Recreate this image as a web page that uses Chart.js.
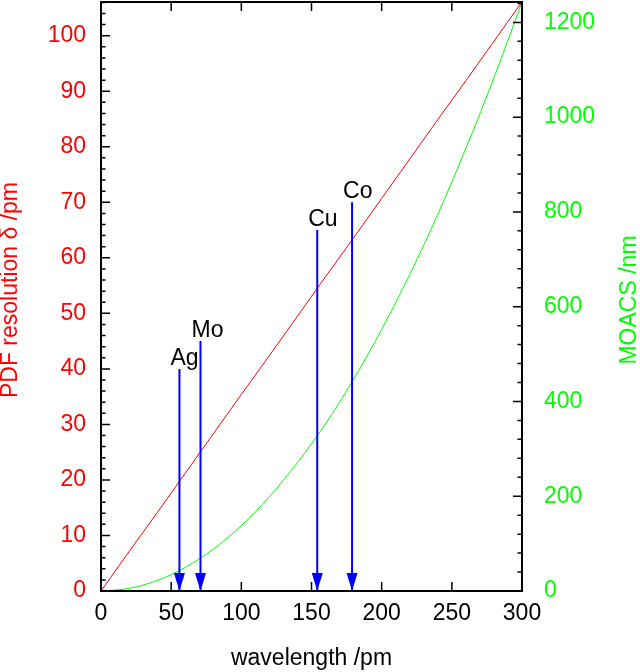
<!DOCTYPE html>
<html>
<head>
<meta charset="utf-8">
<script src="https://cdn.jsdelivr.net/npm/chart.js@4"></script>
<style>
html, body { margin: 0; padding: 0; background: #fff; }
#wrap { width: 640px; height: 672px; position: relative; }
</style>
</head>
<body>
<div id="wrap"><canvas id="myChart"></canvas></div>
<script>
/* global Chart */

// curves
const wavelength = [0, 20, 40, 60, 80, 100, 120, 140, 160, 180, 200, 220, 240, 260, 280, 300];
const resolution = [0, 7.1, 14.1, 21.2, 28.3, 35.4, 42.4, 49.5, 56.6, 63.6, 70.7, 77.8, 84.9, 91.9, 99.0, 106.1];
const moacs = [0, 5.5, 22.1, 49.7, 88.4, 138, 199, 271, 353, 447, 552, 668, 795, 934, 1083, 1243];

// anode lines (arrows)
const arrowLabels = ['Ag', 'Mo', 'Cu', 'Co'];
const arrowLambda = [55.9, 70.9, 154.1, 178.9];
const arrowTop = [40, 45, 65, 70];

// axes
const xTicks = [0, 50, 100, 150, 200, 250, 300];
const yMax = 106.07;
const y2Max = 1243;

const FONT = '"Liberation Sans", Arial, sans-serif';
const FSIZE = 23;
Chart.defaults.font.family = FONT;
Chart.defaults.font.size = FSIZE;

const datasets = [];
arrowLambda.forEach(function(lam, i) {
  datasets.push({
    label: arrowLabels[i],
    data: [{x: lam, y: arrowTop[i]}, {x: lam, y: 0}],
    yAxisID: 'y',
    borderColor: '#0000ff',
    borderWidth: 2,
    pointRadius: 0
  });
});
datasets.push({
  label: 'resolution',
  data: wavelength.map(function(w, i) { return {x: w, y: resolution[i]}; }),
  yAxisID: 'y',
  borderColor: '#ff0000',
  borderWidth: 1,
  pointRadius: 0
});
datasets.push({
  label: 'MOACS',
  data: wavelength.map(function(w, i) { return {x: w, y: moacs[i]}; }),
  yAxisID: 'y2',
  borderColor: '#00ff00',
  borderWidth: 1,
  pointRadius: 0,
  cubicInterpolationMode: 'monotone'
});

function onStep(step) {
  return function(scale) {
    scale.ticks = scale.ticks.filter(function(t) {
      return Math.abs(t.value / step - Math.round(t.value / step)) < 1e-6;
    });
  };
}

function plain(v) { return String(Math.round(v)); }

const decor = {
  id: 'decor',
  afterDatasetsDraw(chart) {
    const ctx = chart.ctx;
    ctx.save();
    // arrow heads and labels
    arrowLambda.forEach(function(lam, i) {
      const meta = chart.getDatasetMeta(i);
      const top = meta.data[0];
      const tip = meta.data[1];
      ctx.fillStyle = '#0000ff';
      ctx.beginPath();
      ctx.moveTo(tip.x, tip.y);
      ctx.lineTo(tip.x - 5.5, tip.y - 18);
      ctx.lineTo(tip.x + 5.5, tip.y - 18);
      ctx.closePath();
      ctx.fill();
      ctx.fillStyle = '#000';
      ctx.font = FSIZE + 'px ' + FONT;
      ctx.textAlign = 'left';
      ctx.textBaseline = 'alphabetic';
      ctx.fillText(arrowLabels[i], top.x - 9, top.y - 4);
    });
    ctx.restore();
  },
  afterDraw(chart) {
    const ctx = chart.ctx;
    const a = chart.chartArea;
    const xs = chart.scales.x, ys = chart.scales.y, y2s = chart.scales.y2;
    ctx.save();
    ctx.strokeStyle = '#000';
    ctx.lineWidth = 1.5;
    ctx.beginPath();
    function tick(x1, y1, x2, y2) { ctx.moveTo(x1, y1); ctx.lineTo(x2, y2); }
    for (let v of xTicks) {
      const px = xs.getPixelForValue(v);
      tick(px, a.bottom, px, a.bottom - 9);
      tick(px, a.top, px, a.top + 9);
    }
    for (let v = 0; v <= yMax; v += 2) {
      const py = ys.getPixelForValue(v);
      tick(a.left, py, a.left + (v % 10 === 0 ? 9 : 4.5), py);
    }
    for (let v = 0; v <= y2Max; v += 40) {
      const py = y2s.getPixelForValue(v);
      tick(a.right, py, a.right - (v % 200 === 0 ? 9 : 4.5), py);
    }
    ctx.stroke();
    ctx.lineWidth = 2;
    ctx.strokeRect(a.left, a.top, a.right - a.left, a.bottom - a.top);

    // axis titles
    ctx.font = FSIZE + 'px ' + FONT;
    ctx.textAlign = 'center';
    ctx.textBaseline = 'alphabetic';
    ctx.fillStyle = '#000';
    ctx.fillText('wavelength /pm', (a.left + a.right) / 2, 665);

    ctx.save();
    ctx.translate(17, 290);
    ctx.rotate(-Math.PI / 2);
    ctx.fillStyle = '#ff0000';
    ctx.fillText('PDF resolution \u03b4 /pm', 0, 0);
    ctx.restore();

    ctx.save();
    ctx.translate(636, 300);
    ctx.rotate(-Math.PI / 2);
    ctx.fillStyle = '#00ff00';
    ctx.fillText('MOACS /nm', 0, 0);
    ctx.restore();

    ctx.restore();
  }
};

const ctx = document.getElementById('myChart').getContext('2d');

const chart = new Chart(ctx, {
  type: 'line',
  data: { datasets: datasets },
  options: {
    responsive: true,
    maintainAspectRatio: false,
    animation: false,
    layout: { padding: { top: 2, left: 0, right: 0, bottom: 0 } },
    plugins: { legend: { display: false }, tooltip: { enabled: false } },
    scales: {
      x: {
        type: 'linear',
        min: 0,
        max: 300,
        grid: { display: false, drawTicks: false },
        border: { display: false },
        ticks: { stepSize: 50, color: '#000', padding: 9, maxRotation: 0, includeBounds: false, callback: plain },
        afterFit(s) { s.height = 81; s.paddingLeft = 0; s.paddingRight = 0; }
      },
      y: {
        position: 'left',
        min: 0,
        max: yMax,
        grid: { display: false, drawTicks: false },
        border: { display: false },
        ticks: { stepSize: 10, color: '#ff0000', padding: 15, includeBounds: false, autoSkip: false, callback: plain },
        afterBuildTicks: onStep(10),
        afterFit(s) { s.width = 101; s.paddingTop = 0; s.paddingBottom = 0; }
      },
      y2: {
        position: 'right',
        min: 0,
        max: y2Max,
        grid: { display: false, drawTicks: false },
        border: { display: false },
        ticks: { stepSize: 200, color: '#00ff00', padding: 22, includeBounds: false, autoSkip: false, callback: plain },
        afterBuildTicks: onStep(200),
        afterFit(s) { s.width = 118; s.paddingTop = 0; s.paddingBottom = 0; }
      }
    }
  },
  plugins: [decor]
});
console.log(chart);
</script>
</body>
</html>
